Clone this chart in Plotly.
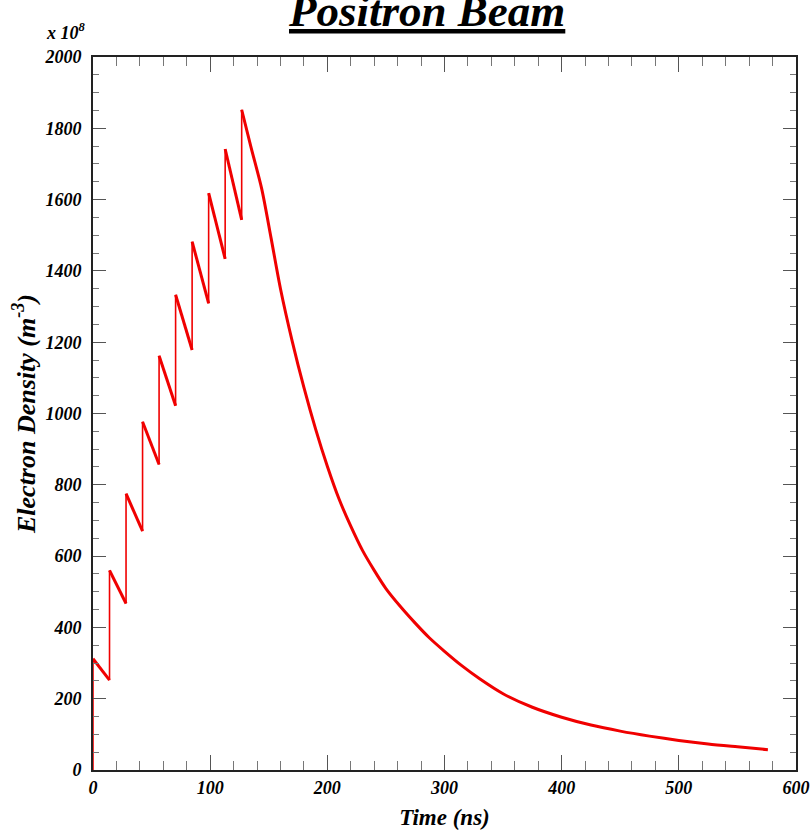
import plotly.graph_objects as go

# Bunch arrival times (ns) and electron density (x 1e8 m^-3) just before / after each bunch
bunch_times = [0.0, 14.1, 28.2, 42.3, 56.4, 70.5, 84.6, 98.7, 112.8, 126.9]
density_before = [0, 252, 467, 670, 857, 1022, 1178, 1309, 1434, 1543]
density_after = [312, 560, 775, 977, 1162, 1333, 1482, 1618, 1742, 1852]

# Decay of the cloud after the last bunch
tail_times = [126.9, 135, 144, 152, 160, 170, 180, 190, 200, 210, 220, 230, 240, 250,
              262, 275, 287, 300, 315, 330, 350, 375, 400, 425, 450, 475, 500, 525,
              550, 576]
tail_density = [1852, 1745, 1630, 1492, 1350, 1203, 1073, 956, 852, 760, 684, 616, 560,
                509, 460, 412, 371, 333, 292, 256, 214, 176, 148, 126, 109, 95, 83, 73,
                65, 57]

x_ticks = [0, 100, 200, 300, 400, 500, 600]
y_ticks = [0, 200, 400, 600, 800, 1000, 1200, 1400, 1600, 1800, 2000]

RED = "#f00000"
FONT = "Liberation Serif"

# jumps at each bunch passage (thin vertical strokes)
jump_x, jump_y = [], []
for t, lo, hi in zip(bunch_times, density_before, density_after):
    jump_x += [t, t, None]
    jump_y += [lo, hi, None]

# decay between consecutive bunches
decay_x, decay_y = [], []
for k in range(len(bunch_times) - 1):
    decay_x += [bunch_times[k], bunch_times[k + 1], None]
    decay_y += [density_after[k], density_before[k + 1], None]

fig = go.Figure()
fig.add_trace(go.Scatter(x=jump_x, y=jump_y, mode="lines",
                         line=dict(color=RED, width=1.6), hoverinfo="skip"))
fig.add_trace(go.Scatter(x=decay_x, y=decay_y, mode="lines",
                         line=dict(color=RED, width=3)))
fig.add_trace(go.Scatter(x=tail_times, y=tail_density, mode="lines",
                         line=dict(color=RED, width=3, shape="spline", smoothing=0.8)))

tick_font = dict(family=FONT, size=18, color="black", weight="bold", style="italic")

axis_common = dict(
    showgrid=False, zeroline=False, showline=True, linecolor="#222222", linewidth=2,
    mirror="allticks", ticks="inside", tickcolor="#555555", tickwidth=1,
    tickfont=tick_font, automargin=False,
)

fig.update_xaxes(
    range=[0, 600], tickvals=x_ticks, ticklen=15,
    minor=dict(dtick=20, ticks="inside", ticklen=9, tickcolor="#777777", tickwidth=1),
    title=dict(text="Time (ns)",
               font=dict(family=FONT, size=23, color="black", weight="bold", style="italic"),
               standoff=12),
    **axis_common,
)
fig.update_yaxes(
    range=[0, 2000], tickvals=y_ticks, ticklen=13,
    minor=dict(dtick=50, ticks="inside", ticklen=6, tickcolor="#777777", tickwidth=1),
    title=dict(text="Electron Density (m<sup>-3</sup>)",
               font=dict(family=FONT, size=26, color="black", weight="bold", style="italic"),
               standoff=1),
    ticklabelstandoff=6,
    **axis_common,
)

fig.add_annotation(
    text="<u>Positron Beam</u>", xref="paper", yref="paper", x=0.474, y=1.026,
    xanchor="center", yanchor="bottom", showarrow=False,
    font=dict(family=FONT, size=45, color="black", weight="bold", style="italic"),
)
fig.add_annotation(
    text="x 10<sup>8</sup>", xref="paper", yref="paper", x=-0.038, y=1.036,
    xanchor="center", yanchor="middle", showarrow=False,
    font=dict(family=FONT, size=18, color="black", weight="bold", style="italic"),
)

fig.update_layout(
    width=811, height=832, showlegend=False,
    paper_bgcolor="white", plot_bgcolor="white",
    margin=dict(l=93, r=15, t=57, b=62),
)

fig.write_html("out.html")
